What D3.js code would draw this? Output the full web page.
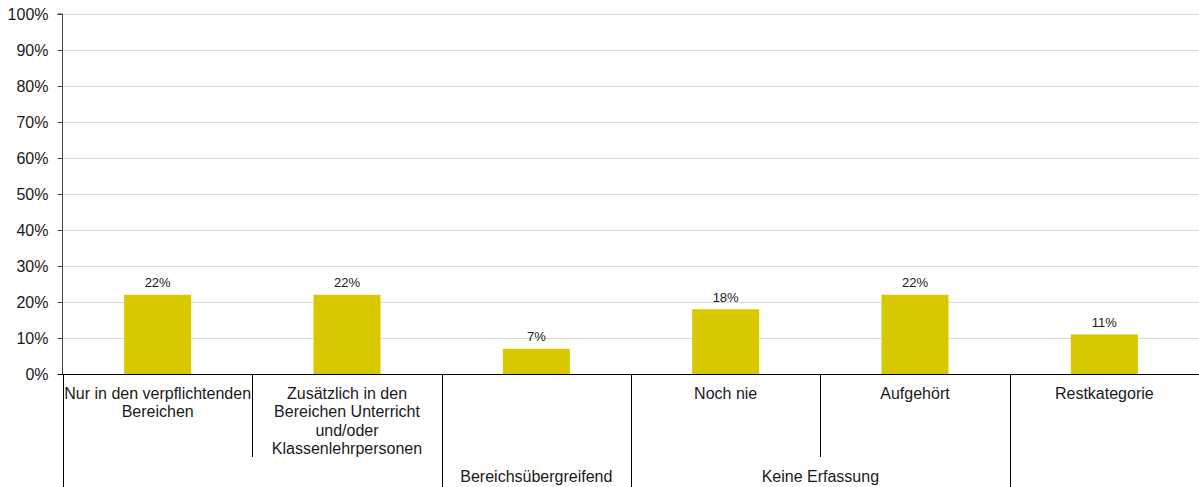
<!DOCTYPE html>
<html>
<head>
<meta charset="utf-8">
<script src="https://cdn.jsdelivr.net/npm/d3@7"></script>
<style>
  html, body { margin: 0; padding: 0; background: #fff; }
  svg { display: block; font-family: "Liberation Sans", Arial, sans-serif; }
</style>
</head>
<body>
<svg id="chart" width="1199" height="487"></svg>
<script>
// Category labels (one entry per line), bar values in percent, and the outer grouping
const categoryLines = [
  ["Nur in den verpflichtenden", "Bereichen"],
  ["Zusätzlich in den", "Bereichen Unterricht", "und/oder", "Klassenlehrpersonen"],
  [],
  ["Noch nie"],
  ["Aufgehört"],
  ["Restkategorie"]
];
const values = [22, 22, 7, 18, 22, 11];
const groupLabels = ["", "Bereichsübergreifend", "Keine Erfassung", ""];
const groupSizes = [2, 1, 2, 1];
const yTicks = [0, 10, 20, 30, 40, 50, 60, 70, 80, 90, 100];

const W = 1199, H = 487;
const margin = { left: 63, right: 0, top: 14, bottom: 113 };
const plotBottom = H - margin.bottom; // 374

const svg = d3.select("#chart");

const idx = d3.range(values.length);
const x = d3.scaleBand().domain(idx).range([margin.left, W - margin.right]).padding(0);
const y = d3.scaleLinear().domain([0, 100]).range([plotBottom, margin.top]);

const barWidth = x.bandwidth() * 0.354;

// Horizontal gridlines
svg.append("g")
  .selectAll("line")
  .data(yTicks.filter(t => t > 0))
  .join("line")
  .attr("x1", margin.left).attr("x2", W)
  .attr("y1", d => Math.round(y(d)) + 0.5).attr("y2", d => Math.round(y(d)) + 0.5)
  .attr("stroke", "#d9d9d9").attr("stroke-width", 1);

// Bars
svg.append("g")
  .selectAll("rect")
  .data(values)
  .join("rect")
  .attr("x", (d, i) => x(i) + (x.bandwidth() - barWidth) / 2)
  .attr("y", d => y(d))
  .attr("width", barWidth)
  .attr("height", d => plotBottom - y(d))
  .attr("fill", "#d8c800");

// Value labels
svg.append("g")
  .selectAll("text")
  .data(values)
  .join("text")
  .attr("x", (d, i) => x(i) + x.bandwidth() / 2)
  .attr("y", d => y(d) - 7.5)
  .attr("text-anchor", "middle")
  .attr("font-size", 13)
  .attr("fill", "#1a1a1a")
  .text(d => d + "%");

// Y axis
const yAxis = d3.axisLeft(y).tickValues(yTicks).tickFormat(d => d + "%").tickSize(5).tickPadding(9);
const yg = svg.append("g")
  .attr("transform", `translate(${margin.left - 0.5},0)`)
  .call(yAxis);
yg.select(".domain").attr("stroke", "#404040").attr("d", `M-5,${y(100)}H0V${plotBottom}`);
yg.selectAll(".tick line").attr("stroke", "#404040");
yg.selectAll(".tick text").attr("font-size", 16).attr("fill", "#1a1a1a")
  .attr("font-family", "Liberation Sans, Arial, sans-serif").attr("dy", "0.36em");

// X baseline
svg.append("line")
  .attr("x1", margin.left - 5).attr("x2", W)
  .attr("y1", plotBottom + 0.5).attr("y2", plotBottom + 0.5)
  .attr("stroke", "#000").attr("stroke-width", 1.2);

// Category dividers: group boundaries run to the bottom, inner boundaries stop above the group row
const groupStarts = [];
let acc = 0;
groupSizes.forEach(s => { groupStarts.push(acc); acc += s; });
const divider = svg.append("g").attr("stroke", "#000").attr("stroke-width", 1);
idx.forEach(i => {
  const isGroupStart = groupStarts.includes(i);
  const xx = Math.round(x(i)) + 0.5;
  divider.append("line")
    .attr("x1", xx).attr("x2", xx)
    .attr("y1", plotBottom).attr("y2", isGroupStart ? H : 457);
});

// Category labels
const catG = svg.append("g").attr("font-size", 16).attr("fill", "#1a1a1a").attr("text-anchor", "middle");
categoryLines.forEach((lines, i) => {
  const t = catG.append("text").attr("x", x(i) + x.bandwidth() / 2).attr("y", 399);
  lines.forEach((ln, j) => {
    t.append("tspan").attr("x", x(i) + x.bandwidth() / 2).attr("dy", j === 0 ? 0 : 18.3).text(ln);
  });
});

// Group labels
const grpG = svg.append("g").attr("font-size", 16).attr("fill", "#1a1a1a").attr("text-anchor", "middle");
groupLabels.forEach((lbl, g) => {
  const s = groupStarts[g], e = s + groupSizes[g] - 1;
  const cx = (x(s) + x(e) + x.bandwidth()) / 2;
  grpG.append("text").attr("x", cx).attr("y", 482).text(lbl);
});
</script>
</body>
</html>
